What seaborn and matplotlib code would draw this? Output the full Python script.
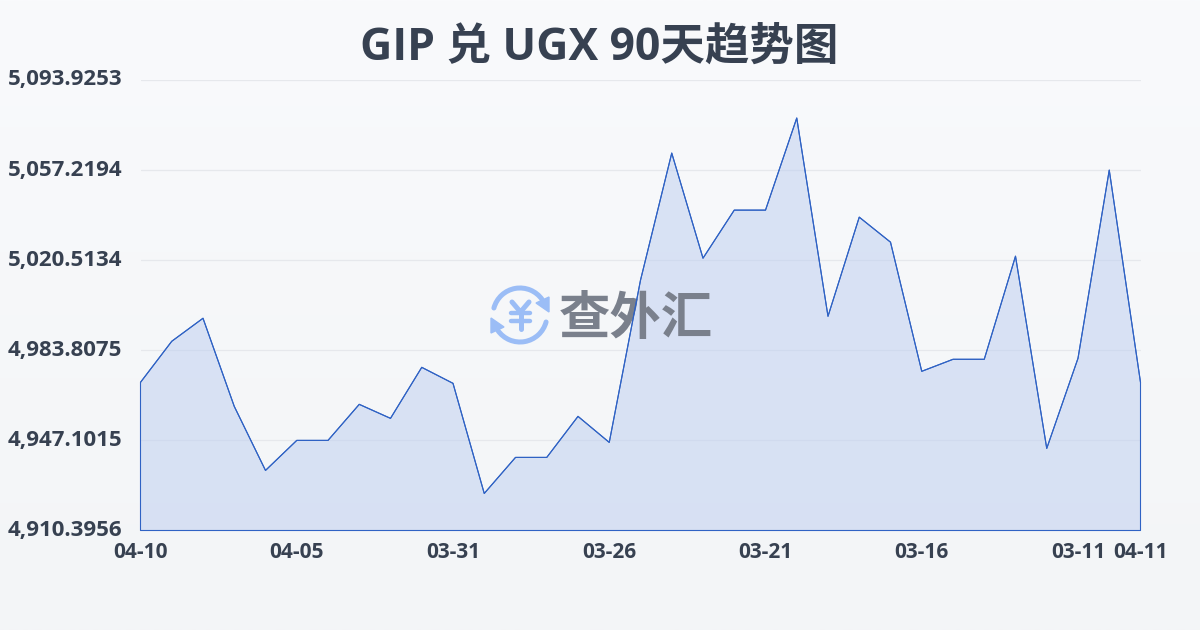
import numpy as np
import pandas as pd
import matplotlib
matplotlib.use("Agg")
import matplotlib.pyplot as plt
from matplotlib.patches import Arc, Polygon
from matplotlib.transforms import Affine2D
import seaborn as sns

title = "GIP 兑 UGX 90天趋势图"
rates = [4970.76, 4987.48, 4996.86, 4960.97, 4934.87, 4947.10, 4947.10, 4961.79, 4956.08,
         4976.87, 4970.35, 4925.49, 4940.17, 4940.17, 4956.89, 4946.29, 5012.36, 5064.15,
         5021.33, 5040.91, 5040.91, 5078.43, 4997.67, 5038.05, 5027.86, 4975.25, 4980.14,
         4980.14, 5022.15, 4943.84, 4980.55, 5057.22, 4970.76]
x_tick_pos = [0, 5, 10, 15, 20, 25, 30, 32]
x_tick_labels = ["04-10", "04-05", "03-31", "03-26", "03-21", "03-16", "03-11", "04-11"]
y_ticks = [4910.3956, 4947.1015, 4983.8075, 5020.5134, 5057.2194, 5093.9253]

TEXT = "#374151"
LINE = "#2f62c4"
LOGO = "#9bbdf6"

sns.set_theme(style="white")
plt.rcParams["font.family"] = ["Open Sans", "Noto Sans CJK SC", "DejaVu Sans"]

df = pd.DataFrame({"idx": np.arange(len(rates)), "rate": rates})

fig = plt.figure(figsize=(12, 6.3), dpi=100)

# background gradient
bg = fig.add_axes([0, 0, 1, 1], zorder=0)
bg.imshow(np.linspace(0, 1, 256).reshape(-1, 1), aspect="auto", extent=[0, 1200, 630, 0],
          cmap=matplotlib.colors.LinearSegmentedColormap.from_list("bg", ["#f9fafc", "#f3f5f7"]))
bg.axis("off")

ax = fig.add_axes([140.5 / 1200, 1 - 530.5 / 630, 1000 / 1200, 450.5 / 630], zorder=1)
ax.patch.set_alpha(0)

# watermark sits above the fill, under the line; coordinates are image pixels
px = Affine2D().scale(1, -1).translate(0, 630)
wm = dict(transform=px, clip_on=False, zorder=3)
ax.add_patch(Arc((520, 315), 54, 54, theta1=195, theta2=325, color=LOGO, lw=3.6, capstyle="round", **wm))
ax.add_patch(Arc((520, 315), 54, 54, theta1=15, theta2=145, color=LOGO, lw=3.6, capstyle="round", **wm))
ax.add_patch(Polygon([[549, 297], [549, 312], [536, 303]], color=LOGO, **wm))
ax.add_patch(Polygon([[491, 318], [491, 333], [504, 327]], color=LOGO, **wm))
ax.plot([512, 520.5, 529], [302, 312, 302], color=LOGO, lw=3.6, solid_capstyle="round", scalex=False, scaley=False, **wm)
ax.plot([520.5, 520.5], [312, 329], color=LOGO, lw=3.6, solid_capstyle="round", scalex=False, scaley=False, **wm)
ax.plot([511, 530], [313, 313], color=LOGO, lw=3.2, solid_capstyle="round", scalex=False, scaley=False, **wm)
ax.plot([511, 530], [321, 321], color=LOGO, lw=3.2, solid_capstyle="round", scalex=False, scaley=False, **wm)
ax.text(636, 318.5, "查外汇", fontsize=37, fontweight="bold", color="#7a808c",
        ha="center", va="center", family=["Noto Sans CJK SC"], **wm)

ax.fill_between(df["idx"], df["rate"], y_ticks[0], facecolor="#bccdf0", alpha=0.5,
                edgecolor="none", zorder=2)
ax.fill_between(df["idx"], df["rate"], y_ticks[0], facecolor="none", edgecolor=LINE,
                linewidth=0.8, zorder=4, clip_on=False)
sns.lineplot(data=df, x="idx", y="rate", ax=ax, color=LINE, linewidth=0.8, zorder=5,
             errorbar=None, clip_on=False)

ax.set_xlim(0, 32)
ax.set_ylim(y_ticks[0], y_ticks[-1])
ax.set_xlabel("")
ax.set_ylabel("")
ax.set_xticks(x_tick_pos)
ax.set_xticklabels(x_tick_labels, fontsize=15, fontweight="bold", color=TEXT)
ax.set_yticks(y_ticks)
ax.set_yticklabels([f"{v:,.4f}" for v in y_ticks], fontsize=16, fontweight="bold", color=TEXT,
                   va="center")
for lab in ax.get_yticklabels():
    lab.set_transform(lab.get_transform() + Affine2D().translate(0, 2))
ax.tick_params(axis="x", length=5, width=0.8, color="#e6e8ec", pad=3)
ax.tick_params(axis="y", length=0, pad=13)
ax.grid(axis="y", color="#e6e8ec", linewidth=0.9)
ax.set_axisbelow(True)
sns.despine(ax=ax, left=True, bottom=True, top=True, right=True)

fig.text(599 / 1200, 1 - 48 / 630, title, fontsize=32, fontweight="bold", color=TEXT,
         ha="center", va="center")

fig.savefig("out.png", dpi=100)
plt.close(fig)
